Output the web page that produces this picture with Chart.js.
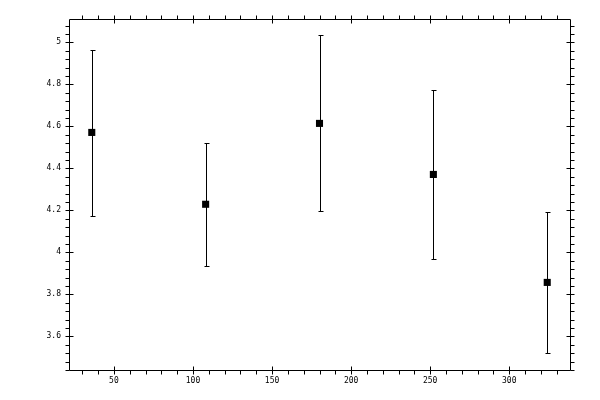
<!DOCTYPE html>
<html>
<head>
<meta charset="utf-8">
<script src="https://cdn.jsdelivr.net/npm/chart.js@4/dist/chart.umd.min.js"></script>
<style>
  html, body { margin: 0; padding: 0; background: #fff; }
  #wrap { width: 600px; height: 400px; }
</style>
</head>
<body>
<div id="wrap"><canvas id="errChart"></canvas></div>
<script>
// data
const xValues = [36, 108, 180, 252, 324];
const yValues = [4.571, 4.229, 4.614, 4.371, 3.857];
const yLow = [4.171, 3.935, 4.195, 3.967, 3.519];
const yHigh = [4.965, 4.522, 5.033, 4.774, 4.193];

const xMajor = 50, xMinor = 10;
const yMajor = 0.2, yMinor = 0.04;

function isMajor(v, step) {
  const r = v / step;
  return Math.abs(r - Math.round(r)) < 1e-6;
}

// error bars, drawn under the markers
const errorBars = {
  id: 'errorBars',
  beforeDatasetsDraw(chart) {
    const { ctx, scales: { x, y } } = chart;
    ctx.save();
    ctx.strokeStyle = '#000';
    ctx.lineWidth = 1;
    xValues.forEach((xv, i) => {
      const px = Math.round(x.getPixelForValue(xv)) + 0.5;
      const top = Math.round(y.getPixelForValue(yHigh[i])) + 0.5;
      const bot = Math.round(y.getPixelForValue(yLow[i])) + 0.5;
      ctx.beginPath();
      ctx.moveTo(px, top); ctx.lineTo(px, bot);
      ctx.moveTo(px - 2, top); ctx.lineTo(px + 3, top);
      ctx.moveTo(px - 2, bot); ctx.lineTo(px + 3, bot);
      ctx.stroke();
    });
    ctx.restore();
  }
};

// frame with major ticks crossing and minor ticks outside, on all four sides
const frameTicks = {
  id: 'frameTicks',
  afterDraw(chart) {
    const { ctx, chartArea: a, scales: { x, y } } = chart;
    const L = Math.round(a.left) + 0.5, R = Math.round(a.right) + 0.5;
    const T = Math.round(a.top) + 0.5, B = Math.round(a.bottom) + 0.5;
    ctx.save();
    ctx.strokeStyle = '#000';
    ctx.lineWidth = 1;
    ctx.beginPath();
    ctx.rect(L, T, R - L, B - T);
    x.ticks.forEach(t => {
      const px = Math.round(x.getPixelForValue(t.value)) + 0.5;
      const major = isMajor(t.value, xMajor);
      ctx.moveTo(px, B + 4); ctx.lineTo(px, major ? B - 4 : B);
      ctx.moveTo(px, T - 4); ctx.lineTo(px, major ? T + 4 : T);
    });
    y.ticks.forEach(t => {
      const py = Math.round(y.getPixelForValue(t.value)) + 0.5;
      const major = isMajor(t.value, yMajor);
      ctx.moveTo(L - 4, py); ctx.lineTo(major ? L + 4 : L, py);
      ctx.moveTo(R + 4, py); ctx.lineTo(major ? R - 4 : R, py);
    });
    ctx.stroke();
    ctx.restore();
  }
};

const tickFont = { family: 'DejaVu Sans Mono', size: 8 };

new Chart(document.getElementById('errChart'), {
  type: 'scatter',
  data: {
    datasets: [{
      data: xValues.map((xv, i) => ({ x: xv, y: yValues[i] })),
      pointStyle: 'rect',
      radius: 5,
      hoverRadius: 5,
      backgroundColor: '#000',
      borderColor: '#000',
      borderWidth: 0
    }]
  },
  options: {
    responsive: true,
    maintainAspectRatio: false,
    animation: false,
    layout: { padding: { top: 19, right: 30, left: 0, bottom: 0 } },
    plugins: { legend: { display: false }, tooltip: { enabled: false } },
    scales: {
      x: {
        type: 'linear',
        min: 21.6,
        max: 338.4,
        border: { display: false },
        grid: { display: false, drawTicks: false },
        afterFit(scale) { scale.height = 30; },
        ticks: {
          stepSize: xMinor,
          includeBounds: false,
          autoSkip: false,
          maxRotation: 0,
          padding: 6,
          color: '#000',
          font: tickFont,
          callback: v => isMajor(v, xMajor) ? String(v) : ''
        }
      },
      y: {
        type: 'linear',
        min: 3.44,
        max: 5.111,
        border: { display: false },
        grid: { display: false, drawTicks: false },
        afterFit(scale) { scale.width = 69; },
        ticks: {
          stepSize: yMinor,
          includeBounds: false,
          autoSkip: false,
          padding: 8,
          color: '#000',
          font: tickFont,
          callback: v => isMajor(v, yMajor) ? String(Math.round(v * 10) / 10) : ''
        }
      }
    }
  },
  plugins: [errorBars, frameTicks]
});
</script>
</body>
</html>
